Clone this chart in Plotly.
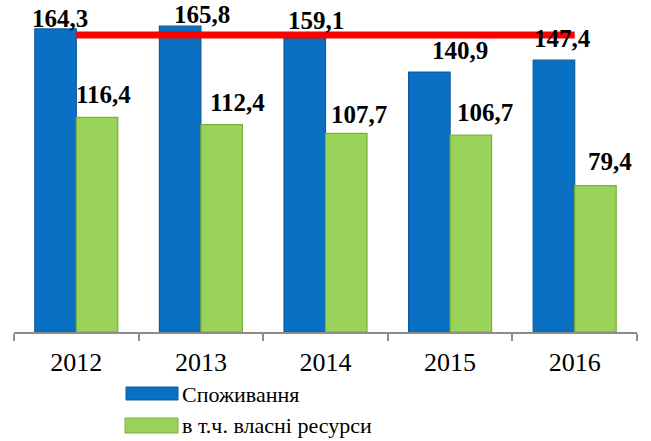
import plotly.graph_objects as go

years = ["2012", "2013", "2014", "2015", "2016"]
consumption = [164.3, 165.8, 159.1, 140.9, 147.4]
own_resources = [116.4, 112.4, 107.7, 106.7, 79.4]
series_names = ["Споживання", "в т.ч. власні ресурси"]
ref_level = 161.0

BLUE = "#0A70C3"
GREEN = "#9AD359"
SERIF = "Liberation Serif, Times New Roman, DejaVu Serif, serif"
W, H = 651, 441
ML, MR, MT, MB = 14, 14, 0, 109
PW, PH = W - ML - MR, H - MT - MB

def px_x(p):
    return (p - ML) / PW

def px_y(p):
    return (H - MB - p) / PH

def fmt(v):
    return f"{v:.1f}".replace(".", ",")

fig = go.Figure()
fig.add_trace(go.Bar(x=years, y=consumption, name=series_names[0],
                     marker=dict(color=BLUE, line=dict(color="#0B5C9E", width=1.2))))
fig.add_trace(go.Bar(x=years, y=own_resources, name=series_names[1],
                     marker=dict(color=GREEN, line=dict(color="#7BAF3E", width=1.2))))
fig.add_trace(go.Scatter(x=[years[0], years[-1]], y=[ref_level, ref_level], mode="lines",
                         line=dict(color="#FF0000", width=7), showlegend=False, hoverinfo="skip"))

# data labels (drawn above the red line)
blue_dx = [5, 22, 11, 31, 9]
blue_dy = [-1, 0, 7, 10, 10]
green_dx = [6, 16, 12, 14, 14]
green_dy = [11, 11, 7, 11, 13]
lab_font = dict(family=SERIF, size=25, color="black")
annotations = []
for i in range(len(years)):
    annotations.append(dict(x=i, y=consumption[i], text="<b>" + fmt(consumption[i]) + "</b>",
                            showarrow=False, xshift=-21 + blue_dx[i], yshift=blue_dy[i] - 4,
                            yanchor="bottom", font=lab_font))
    annotations.append(dict(x=i, y=own_resources[i], text="<b>" + fmt(own_resources[i]) + "</b>",
                            showarrow=False, xshift=21 + green_dx[i], yshift=green_dy[i] - 4,
                            yanchor="bottom", font=lab_font))

# custom legend
shapes = [
    dict(type="rect", xref="paper", yref="paper", x0=px_x(126), x1=px_x(178), y0=px_y(400), y1=px_y(387),
         fillcolor=BLUE, line=dict(color="#0B5C9E", width=1)),
    dict(type="rect", xref="paper", yref="paper", x0=px_x(125), x1=px_x(178), y0=px_y(433), y1=px_y(418),
         fillcolor=GREEN, line=dict(color="#7BAF3E", width=1)),
]
leg_font = dict(family=SERIF, size=22, color="black")
annotations.append(dict(xref="paper", yref="paper", x=px_x(181), y=px_y(394), text=series_names[0],
                        showarrow=False, xanchor="left", yanchor="middle", font=leg_font, borderpad=0))
annotations.append(dict(xref="paper", yref="paper", x=px_x(181), y=px_y(425), text=series_names[1],
                        showarrow=False, xanchor="left", yanchor="middle", font=leg_font, borderpad=0))

fig.update_layout(
    width=W, height=H,
    margin=dict(l=ML, r=MR, t=MT, b=MB),
    paper_bgcolor="white", plot_bgcolor="white",
    font=dict(family=SERIF),
    barmode="group", bargap=0.334, bargroupgap=0,
    showlegend=False,
    annotations=annotations, shapes=shapes,
    xaxis=dict(type="category", range=[-0.5, 4.5], autorange=False, showline=True,
               linecolor="#8C8C8C", linewidth=1.5,
               ticks="outside", tickson="boundaries", ticklen=7, tickcolor="#8C8C8C", tickwidth=1.5,
               tickangle=0, ticklabelstandoff=6,
               tickfont=dict(family=SERIF, size=26, color="black"), showgrid=False),
    yaxis=dict(range=[0, 180], autorange=False, visible=False, showgrid=False),
)

fig.write_html("out.html", config={"displayModeBar": False},
               post_script="document.body.style.margin='0';document.body.style.padding='0';")
